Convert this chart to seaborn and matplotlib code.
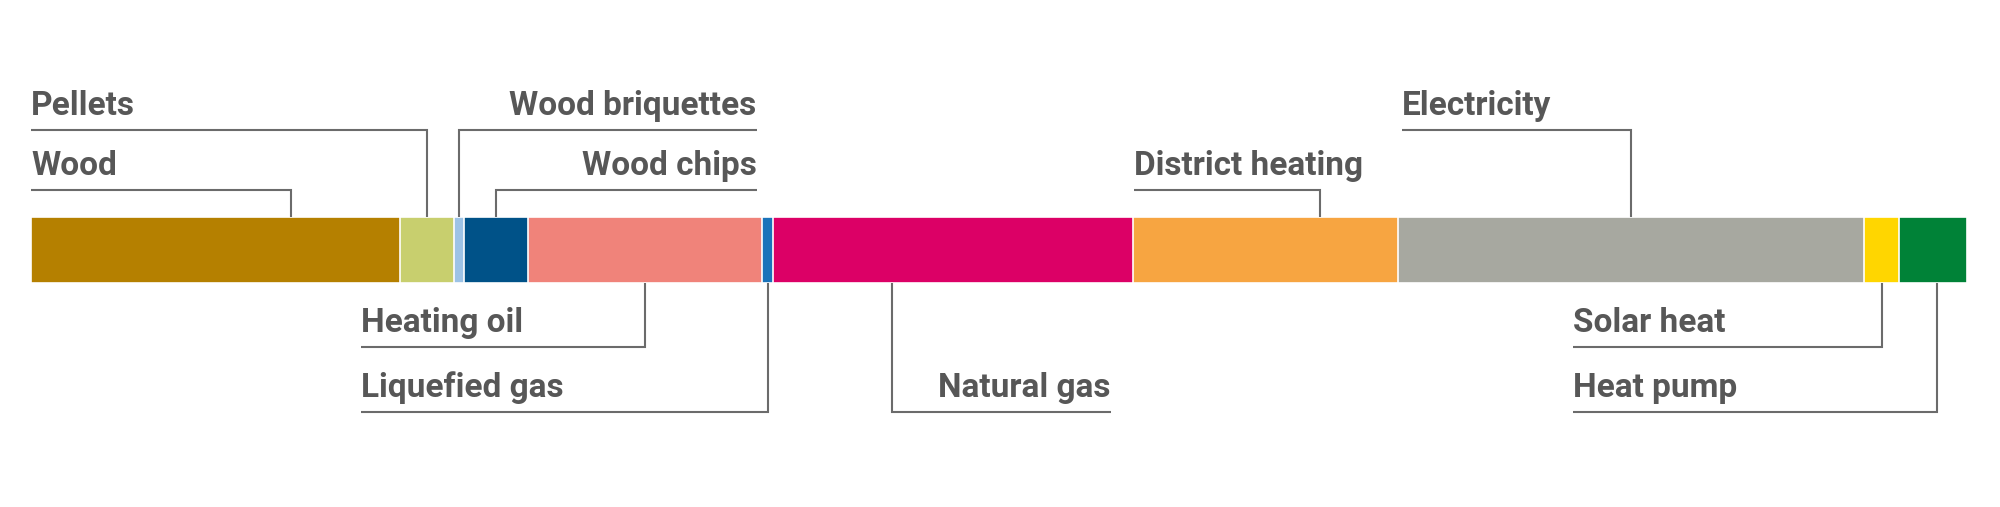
import matplotlib
matplotlib.use("Agg")
import matplotlib.pyplot as plt
import seaborn as sns
import numpy as np

# ---- data (share of heating energy sources, %) ----
categories = ["Wood", "Pellets", "Wood briquettes", "Wood chips", "Heating oil",
              "Liquefied gas", "Natural gas", "District heating", "Electricity",
              "Solar heat", "Heat pump"]
values = [19.1, 2.8, 0.5, 3.3, 12.1, 0.6, 18.6, 13.7, 24.1, 1.8, 3.5]
colors = ["#b58000", "#c8cf6e", "#9dc3e6", "#005288", "#f0837a", "#1a73ba",
          "#dc0066", "#f7a541", "#a7a8a0", "#ffd600", "#008237"]

# ---- layout (pixels on a 2000x507 canvas) ----
W, H = 2000, 507
BAR_LEFT, BAR_RIGHT = 30.6, 1967.0
BAR_TOP, BAR_BOT = 217.0, 282.5
TEXT_COLOR = "#575757"
LINE_COLOR = "#6b6b6b"

# label layout: text anchor x (px), horizontal alignment, line y (px), leader position within segment
label_layout = {
    "Wood":             (31,    "left",  190, 0.706),
    "Pellets":          (31,    "left",  130, 0.5),
    "Wood briquettes":  (756.6, "right", 130, 0.5),
    "Wood chips":       (756.6, "right", 190, 0.5),
    "Heating oil":      (361,   "left",  347, 0.5),
    "Liquefied gas":    (361,   "left",  412, 0.5),
    "Natural gas":      (1111,  "right", 412, 0.33),
    "District heating": (1134,  "left",  190, 0.704),
    "Electricity":      (1401.8, "left", 130, 0.5),
    "Solar heat":       (1572.6, "left", 347, 0.5),
    "Heat pump":        (1572.6, "left", 412, 0.56),
}

sns.set_theme(style="white")
plt.rcParams["font.family"] = ["Roboto", "DejaVu Sans"]

fig = plt.figure(figsize=(W / 100, H / 100), dpi=100)
ax = fig.add_axes([0, 0, 1, 1])

total = float(np.sum(values))
cum = np.cumsum(values)
starts = cum - np.array(values)

# stacked bar: draw cumulative bars from the largest down so each overlays the next
for i in range(len(values) - 1, -1, -1):
    sns.barplot(x=[cum[i]], y=["share"], orient="h", color=colors[i],
                width=1.0, edgecolor="white", linewidth=1.2, errorbar=None,
                saturation=1, ax=ax)

# map data -> pixels
scale = (BAR_RIGHT - BAR_LEFT) / total
xmin = -BAR_LEFT / scale
xmax = (W - BAR_LEFT) / scale
ax.set_xlim(xmin, xmax)
bar_h_px = BAR_BOT - BAR_TOP
center_px = (BAR_TOP + BAR_BOT) / 2
ax.set_ylim((H - center_px) / bar_h_px, -center_px / bar_h_px)
ax.axis("off")


def px2x(px):
    return xmin + px / W * (xmax - xmin)


def py2y(py):
    return (py - center_px) / bar_h_px


for i, name in enumerate(categories):
    tx, ha, ly, frac = label_layout[name]
    lead_x = starts[i] + values[i] * frac
    above = ly < BAR_TOP
    bar_edge = BAR_TOP if above else BAR_BOT
    # leader: vertical then horizontal
    ax.plot([lead_x, lead_x, px2x(tx)], [py2y(bar_edge), py2y(ly), py2y(ly)],
            color=LINE_COLOR, lw=1.5, solid_capstyle="butt",
            solid_joinstyle="miter", zorder=1)
    ax.text(px2x(tx), py2y(ly - 15), name, ha=ha, va="baseline",
            fontsize=24, fontweight="bold", color=TEXT_COLOR)

fig.savefig("out.png", dpi=100, facecolor="white")
